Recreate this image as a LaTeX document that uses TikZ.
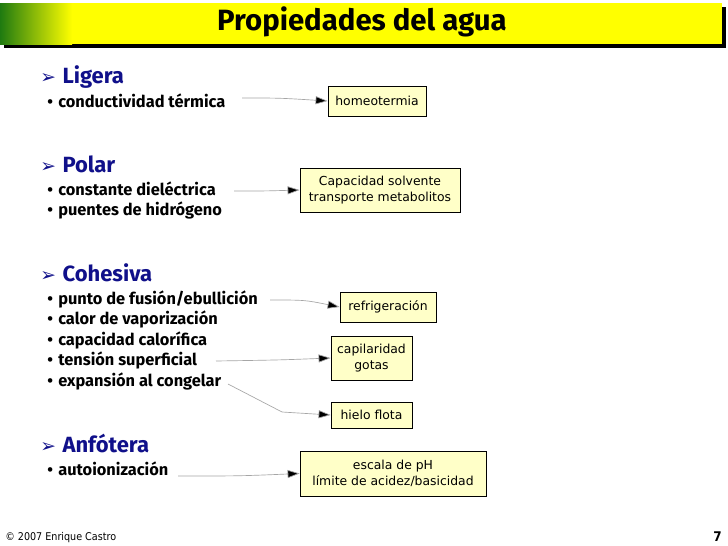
\documentclass[tikz,border=0pt]{standalone}
\usepackage{fontspec}
\setmainfont{Fira Sans}
\newfontfamily\boxfont{DejaVu Sans}
\newfontfamily\condfont{DejaVu Sans Condensed}
\usetikzlibrary{arrows.meta}
\definecolor{navy}{HTML}{10108A}
\definecolor{boxfill}{HTML}{FFFFC8}
\definecolor{ttlyel}{HTML}{FFFF00}
\definecolor{ttlgreen}{HTML}{1F7A10}
\newcommand{\hb}{{\boxfont\fontsize{14}{14}\selectfont\char"27A2}\hspace{5pt}}
\begin{document}
\begin{tikzpicture}[x=0.75pt,y=-0.75pt,
  head/.style={anchor=west,text=navy,font=\fontsize{16.5}{18}\selectfont\bfseries,inner sep=0},
  item/.style={anchor=west,font=\fontsize{12.3}{14}\selectfont\bfseries,inner sep=0},
  res/.style={draw=black,fill=boxfill,line width=0.6pt,font=\boxfont\fontsize{9.3}{12}\selectfont,align=center,inner sep=0},
  conn/.style={draw=gray!70,line width=0.5pt,-{Triangle[length=9pt,width=6pt,fill=black]}}]
\useasboundingbox (0,0) rectangle (728,546);
\fill[white] (0,0) rectangle (728,546);
% title bar
\fill[black] (4,7) rectangle (726,48);
\fill[ttlyel] (0,3) rectangle (722,44);
\shade[left color=ttlgreen,right color=ttlyel] (0,3) rectangle (72,44);
\node[font=\fontsize{22}{24}\selectfont\bfseries] (title) at (362,22) {Propiedades del agua};
% headings
\node[head] (h1) at (40,77) {\hb Ligera};
\node[item] (i1) at (47,101) {•\hspace{4pt}conductividad térmica};
\node[head] (h2) at (40,164) {\hb Polar};
\node[item] (i2) at (47,189) {•\hspace{4pt}constante dieléctrica};
\node[item] (i3) at (47,210) {•\hspace{4pt}puentes de hidrógeno};
\node[head] (h3) at (40,273) {\hb Cohesiva};
\node[item] (i4) at (47,299) {•\hspace{4pt}punto de fusión/ebullición};
\node[item] (i5) at (47,319) {•\hspace{4pt}calor de vaporización};
\node[item] (i6) at (47,340) {•\hspace{4pt}capacidad calorífica};
\node[item] (i7) at (47,360) {•\hspace{4pt}tensión superficial};
\node[item] (i8) at (47,381) {•\hspace{4pt}expansión al congelar};
\node[head] (h4) at (40,443) {\hb Anfótera};
\node[item] (i9) at (47,469) {•\hspace{4pt}autoionización};
% result boxes
\node[res,minimum width=98*0.75pt,minimum height=30*0.75pt] (b1) at (377,101) {homeotermia};
\node[res,minimum width=160*0.75pt,minimum height=44*0.75pt] (b2) at (380,190) {Capacidad solvente\\transporte metabolitos};
\node[res,minimum width=96*0.75pt,minimum height=30*0.75pt] (b3) at (388,307) {refrigeración};
\node[res,minimum width=81*0.75pt,minimum height=44*0.75pt] (b4) at (371.5,358) {capilaridad\\gotas};
\node[res,minimum width=81*0.75pt,minimum height=26*0.75pt] (b5) at (371.5,415) {hielo flota};
\node[res,minimum width=186*0.75pt,minimum height=45*0.75pt] (b6) at (393,473.5) {escala de pH\\límite de acidez/basicidad};
% connectors
\coordinate (c1) at (242,98);
\coordinate (c2) at (234,191);
\coordinate (c4) at (270,300);
\coordinate (c7) at (216,361);
\coordinate (c8) at (228,384);
\coordinate (c8b) at (282,412);
\coordinate (c9) at (178,476);
\draw[conn] (c1) .. controls (280,98) .. (b1.west);
\draw[conn] (c2) .. controls (265,191) .. (b2.west);
\draw[conn] (c4) .. controls (305,300) .. (b3.west);
\draw[conn] (c7) .. controls (280,360) .. (b4.west);
\draw[conn] (c8) -- (c8b) -- (b5.west);
\draw[conn] (c9) .. controls (240,476) .. (b6.west);
% footer
\node[anchor=west,font=\condfont\fontsize{8}{10}\selectfont,inner sep=0] (foot) at (5,538) {© 2007 Enrique Castro};
\node[anchor=east,font=\condfont\bfseries\fontsize{10}{12}\selectfont,inner sep=0] (pg) at (722,537) {7};
\end{tikzpicture}
\end{document}
